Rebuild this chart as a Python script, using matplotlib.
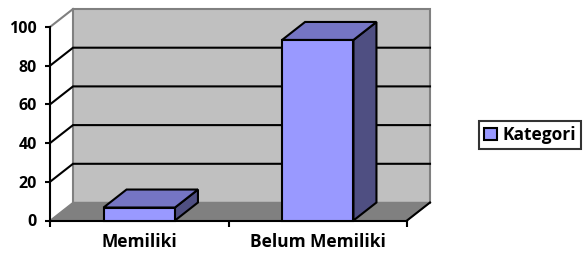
import matplotlib
matplotlib.use("Agg")
import matplotlib.pyplot as plt
from matplotlib.patches import Polygon, Patch
import numpy as np

categories = ["Memiliki", "Belum Memiliki"]
values = [6.7, 93.3]
series_name = "Kategori"
yticks = [0, 20, 40, 60, 80, 100]

plt.rcParams['font.family'] = ['Open Sans', 'DejaVu Sans']

W, H = 584, 257
fig = plt.figure(figsize=(W / 100, H / 100), dpi=100)
# front plane of the 3D box in pixels
x0p, x1p, y0p, y1p = 50, 407, 220.5, 27
ax = fig.add_axes([x0p / W, (H - y0p) / H, (x1p - x0p) / W, (y0p - y1p) / H])
ax.set_facecolor('none')
n = len(categories)
ax.set_xlim(0, n)
ax.set_ylim(0, 100)

# depth offset in data units
px_x = (x1p - x0p) / n
px_y = (y0p - y1p) / 100
dx = 23 / px_x
dy = 18 / px_y

top = yticks[-1]
# back wall
ax.add_patch(Polygon([(dx, dy), (n + dx, dy), (n + dx, top + dy), (dx, top + dy)],
                     closed=True, facecolor='#C0C0C0', edgecolor='#808080', lw=1.5,
                     clip_on=False, zorder=1))
# floor
ax.add_patch(Polygon([(0, 0), (n, 0), (n + dx, dy), (dx, dy)], closed=True,
                     facecolor='#808080', edgecolor='#808080', lw=1.0, clip_on=False, zorder=1.2))
ax.plot([n, n + dx], [0, dy], color='black', lw=1.5, clip_on=False, zorder=1.3)
# side wall top edge
ax.plot([0, dx], [top, top + dy], color='#808080', lw=1.5, clip_on=False, zorder=1.3)
# gridlines
for t in yticks[1:-1]:
    ax.plot([0, dx, n + dx], [t, t + dy, t + dy], color='black', lw=1.5,
            clip_on=False, zorder=1.4, solid_joinstyle='miter')

front_c, top_c, side_c = '#9999FF', '#7575C4', '#4F4F82'
bw = 0.4
for i, v in enumerate(values):
    xa, xb = i + 0.5 - bw / 2, i + 0.5 + bw / 2
    kw = dict(closed=True, edgecolor='black', lw=1.5, clip_on=False, zorder=3, joinstyle='miter')
    ax.add_patch(Polygon([(xb, 0), (xb + dx, dy), (xb + dx, v + dy), (xb, v)], facecolor=side_c, **kw))
    ax.add_patch(Polygon([(xa, v), (xb, v), (xb + dx, v + dy), (xa + dx, v + dy)], facecolor=top_c, **kw))
    ax.add_patch(Polygon([(xa, 0), (xb, 0), (xb, v), (xa, v)], facecolor=front_c, **kw))

for s in ['top', 'right']:
    ax.spines[s].set_visible(False)
for s in ['left', 'bottom']:
    ax.spines[s].set_color('black')
    ax.spines[s].set_linewidth(1.5)
    ax.spines[s].set_zorder(2.5)

ax.set_yticks(yticks)
ax.set_yticklabels([str(t) for t in yticks], fontsize=11.5, fontweight='bold')
ax.tick_params(axis='y', direction='out', length=3.5, width=1.5, pad=6)
ax.set_xticks([i + 0.5 for i in range(n)])
ax.set_xticklabels(categories, fontsize=12.5, fontweight='bold')
ax.tick_params(axis='x', which='major', length=0, pad=9)
ax.set_xticks(list(range(n + 1)), minor=True)
ax.tick_params(axis='x', which='minor', direction='out', length=4, width=1.5)

leg = fig.legend(handles=[Patch(facecolor=front_c, edgecolor='black', lw=1.5, label=series_name)],
                 loc='center left', bbox_to_anchor=(479 / W, 1 - 135 / H),
                 frameon=True, fancybox=False, edgecolor='black',
                 prop=dict(family=['Open Sans', 'DejaVu Sans'], weight='bold', size=12.5),
                 handlelength=0.75, handleheight=0.75, handletextpad=0.3, borderpad=0.3,
                 borderaxespad=0)
leg.get_frame().set_linewidth(1.5)

fig.savefig("out.png", dpi=100)
